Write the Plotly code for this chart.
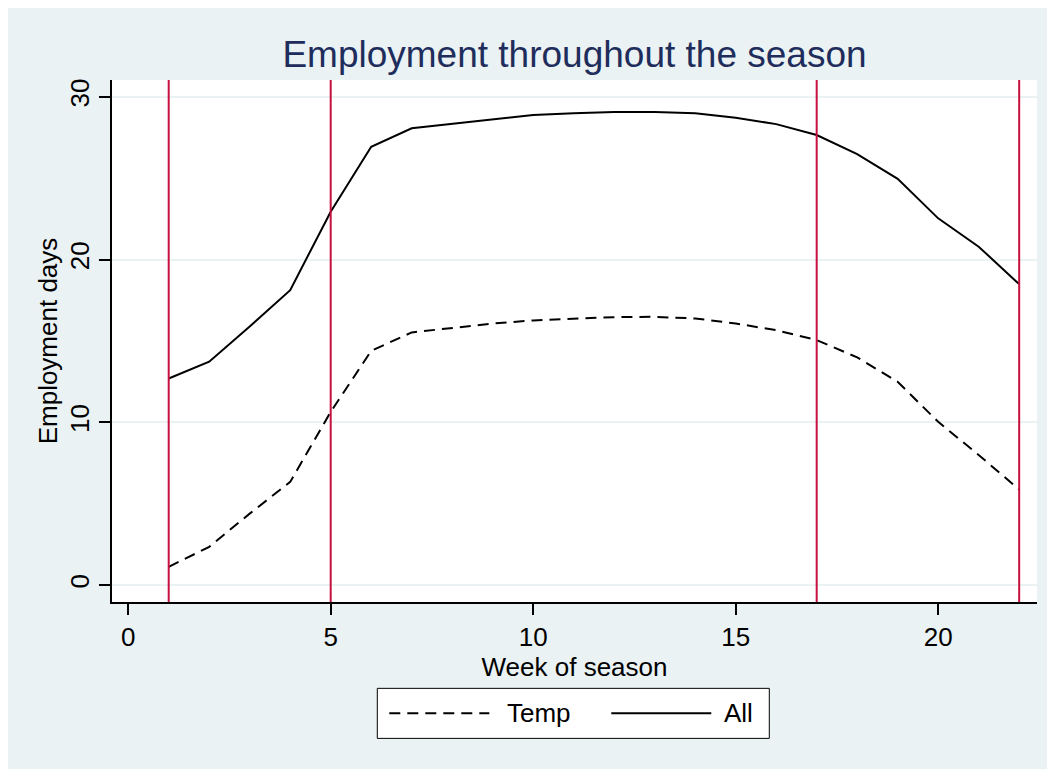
import plotly.graph_objects as go

# ---- data ----
weeks = list(range(1, 23))
all_days = [12.7, 13.73, 15.9, 18.13, 22.95, 26.94, 28.07, 28.35, 28.64, 28.89, 28.99,
            29.07, 29.07, 28.99, 28.72, 28.33, 27.66, 26.49, 24.97, 22.54, 20.8, 18.5]
temp_days = [1.13, 2.36, 4.4, 6.35, 10.65, 14.4, 15.53, 15.82, 16.08, 16.27, 16.39,
             16.47, 16.49, 16.39, 16.08, 15.67, 15.06, 14.0, 12.5, 10.04, 8.0, 5.88]
marker_weeks = [1, 5, 17, 22]
x_ticks = [0, 5, 10, 15, 20]
y_ticks = [0, 10, 20, 30]
series_names = ["Temp", "All"]

# ---- geometry (screen pixels; page body has an 8px margin) ----
W, H = 1055, 769
OFF = 8
SL, SR, ST, SB = 111.7, 1036.7, 80.0, 601.7


def px(x):
    return (x - SL) / (SR - SL)


def py(y):
    return (SB - y) / (SB - ST)


FONT = "Liberation Sans, Arial, Helvetica, sans-serif"
BG = "#EAF2F3"
RED = "#C8103E"
FS = 26

fig = go.Figure()
fig.add_trace(go.Scatter(x=weeks, y=temp_days, mode="lines", name=series_names[0],
                         line=dict(color="black", width=2, dash="11px,7px"),
                         showlegend=False))
fig.add_trace(go.Scatter(x=weeks, y=all_days, mode="lines", name=series_names[1],
                         line=dict(color="black", width=2),
                         showlegend=False))

for w in marker_weeks:
    fig.add_shape(type="line", xref="x", yref="paper", x0=w, x1=w, y0=0, y1=1,
                  line=dict(color=RED, width=2))

shapes_extra = [
    # legend box
    dict(type="rect", xref="paper", yref="paper", x0=px(377), x1=px(769), y0=py(738), y1=py(688),
         fillcolor="white", line=dict(color="black", width=1)),
    dict(type="line", xref="paper", yref="paper", x0=px(389), x1=px(489), y0=py(713), y1=py(713),
         line=dict(color="black", width=2, dash="11px,7px")),
    dict(type="line", xref="paper", yref="paper", x0=px(611), x1=px(711), y0=py(713), y1=py(713),
         line=dict(color="black", width=2)),
]
for s in shapes_extra:
    fig.add_shape(**s)

fig.add_annotation(x=px(505), y=py(713), xref="paper", yref="paper", text=series_names[0],
                   showarrow=False, xanchor="left", yanchor="middle",
                   font=dict(family=FONT, size=FS, color="black"))
fig.add_annotation(x=px(722), y=py(713), xref="paper", yref="paper", text=series_names[1],
                   showarrow=False, xanchor="left", yanchor="middle",
                   font=dict(family=FONT, size=FS, color="black"))

fig.update_layout(
    width=W, height=H,
    margin=dict(l=SL - OFF, r=W - (SR - OFF), t=ST - OFF, b=H - (SB - OFF), autoexpand=False),
    paper_bgcolor=BG, plot_bgcolor="white",
    font=dict(family=FONT, size=FS, color="black"),
    title=dict(text="Employment throughout the season", x=0.5, xref="paper",
               y=1 - (54 - OFF) / H, yref="container", yanchor="middle",
               font=dict(family=FONT, size=37, color="#1F2D5C")),
    showlegend=False,
)
fig.update_xaxes(range=[-0.4, 22.44], tickvals=x_ticks, showgrid=False, zeroline=False,
                 showline=True, linecolor="black", linewidth=1.5,
                 ticks="outside", ticklen=11, tickwidth=1.5, tickcolor="black",
                 tickfont=dict(size=FS),
                 title=dict(text="Week of season", font=dict(size=FS), standoff=2))
fig.update_yaxes(range=[-1.03, 31.04], tickvals=y_ticks, showgrid=True, gridcolor=BG,
                 gridwidth=1.5, zeroline=False,
                 showline=True, linecolor="black", linewidth=1.5,
                 ticks="outside", ticklen=11, tickwidth=1.5, tickcolor="black",
                 tickangle=-90, tickfont=dict(size=FS),
                 title=dict(text="Employment days", font=dict(size=FS), standoff=0))

fig.write_html("out.html")
